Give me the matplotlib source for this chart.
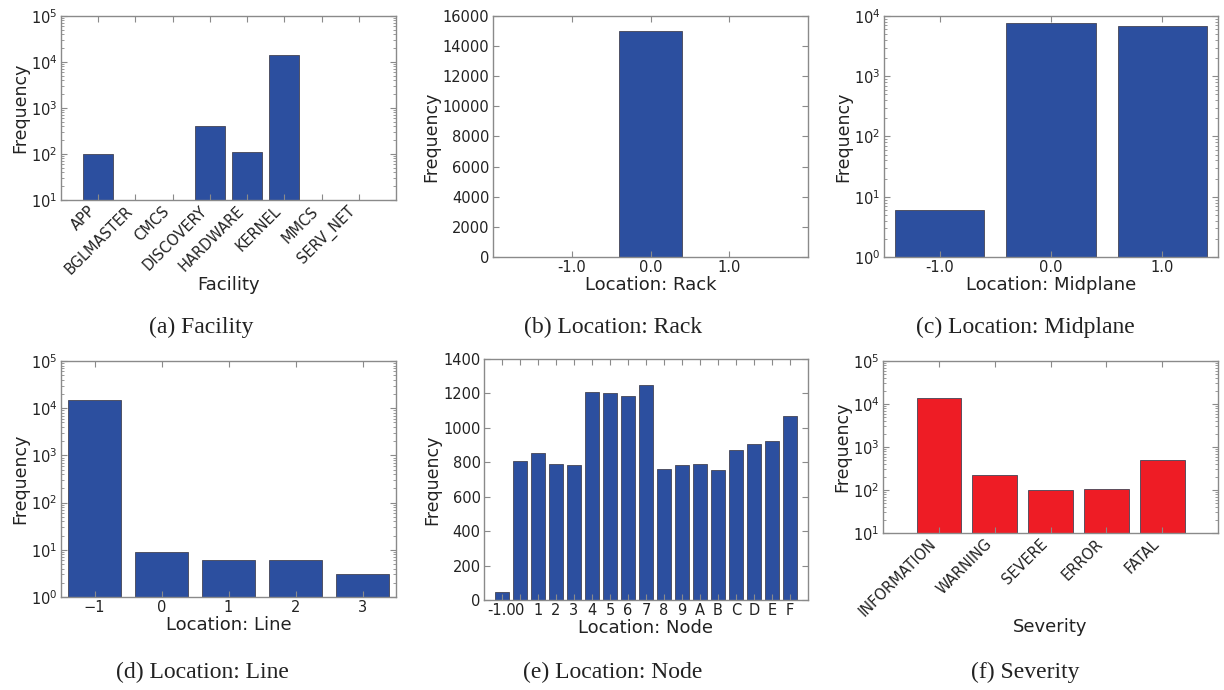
import matplotlib
matplotlib.use("Agg")
import matplotlib.pyplot as plt
from matplotlib.ticker import LogLocator, NullFormatter

# ---------------- data ----------------
facility_labels = ["APP", "BGLMASTER", "CMCS", "DISCOVERY", "HARDWARE", "KERNEL", "MMCS", "SERV_NET"]
facility_values = [100, 1, 1, 410, 110, 14000, 1, 1]

rack_labels = ["-1.0", "0.0", "1.0"]
rack_values = [0, 15000, 0]

midplane_labels = ["-1.0", "0.0", "1.0"]
midplane_values = [6, 7600, 6850]

line_labels = [-1, 0, 1, 2, 3]
line_values = [14800, 9, 6, 6, 3]

node_labels = ["-1.0", "0", "1", "2", "3", "4", "5", "6", "7", "8", "9",
               "A", "B", "C", "D", "E", "F"]
node_values = [45, 809, 856, 792, 784, 1206, 1204, 1183, 1249, 761, 784,
               790, 755, 871, 904, 926, 1071]

severity_labels = ["INFORMATION", "WARNING", "SEVERE", "ERROR", "FATAL"]
severity_values = [14100, 224, 101, 108, 500]

captions = ["(a) Facility", "(b) Location: Rack", "(c) Location: Midplane",
            "(d) Location: Line", "(e) Location: Node", "(f) Severity"]

# ---------------- style ----------------
W, H = 1224, 690
BLUE = "#2c4f9f"
RED = "#ee1c25"
EDGE = "#444455"
SPINE = "#8a8a8a"
TXT = "#222222"
plt.rcParams["font.family"] = ["DejaVu Sans"]
plt.rcParams["text.color"] = TXT
plt.rcParams["axes.labelcolor"] = TXT

fig = plt.figure(figsize=(W / 100, H / 100), dpi=100)


def make_axes(x0, x1, ytop, ybot):
    return fig.add_axes([x0 / W, 1 - ybot / H, (x1 - x0) / W, (ybot - ytop) / H])


def style(ax, log=False):
    for s in ax.spines.values():
        s.set_color(SPINE)
        s.set_linewidth(1.0)
    ax.tick_params(which="both", direction="in", top=True, right=True,
                   colors=SPINE, labelcolor=TXT, labelsize=10.5, pad=2.5)
    ax.tick_params(which="major", length=4, width=0.8)
    ax.tick_params(which="minor", length=2, width=0.6)
    if log:
        ax.set_yscale("log")
        ax.yaxis.set_minor_locator(LogLocator(base=10, subs=range(2, 10), numticks=20))
        ax.yaxis.set_minor_formatter(NullFormatter())
    ax.set_ylabel("Frequency", fontsize=12.5, labelpad=1.5)


# (a) Facility
ax = make_axes(61, 396, 16, 200)
style(ax, log=True)
xs = list(range(len(facility_labels)))
ax.bar(xs, facility_values, width=0.8, color=BLUE, edgecolor=EDGE, linewidth=0.6)
ax.set_ylim(10, 1e5)
ax.set_xlim(-1, len(facility_labels))
ax.set_xticks(xs, facility_labels, rotation=45, ha="right")
ax.set_xlabel("Facility", fontsize=13, labelpad=-1)

# (b) Rack
ax = make_axes(493, 808, 16, 257)
style(ax)
xs = list(range(len(rack_labels)))
ax.bar(xs, rack_values, width=0.8, color=BLUE, edgecolor=EDGE, linewidth=0.6)
ax.set_ylim(0, 16000)
ax.set_xlim(-1, len(rack_labels))
ax.set_xticks(xs, rack_labels)
ax.set_xlabel("Location: Rack", fontsize=13, labelpad=0.5)

# (c) Midplane
ax = make_axes(884, 1218, 16, 257)
style(ax, log=True)
xs = list(range(len(midplane_labels)))
ax.bar(xs, midplane_values, width=0.8, color=BLUE, edgecolor=EDGE, linewidth=0.6)
ax.set_ylim(1, 1e4)
ax.set_xlim(-0.5, len(midplane_labels) - 0.5)
ax.set_xticks(xs, midplane_labels)
ax.set_xlabel("Location: Midplane", fontsize=13, labelpad=0.5)

# (d) Line
ax = make_axes(61, 396, 361, 597)
style(ax, log=True)
ax.bar(line_labels, line_values, width=0.8, color=BLUE, edgecolor=EDGE, linewidth=0.6)
ax.set_ylim(1, 1e5)
ax.set_xlim(line_labels[0] - 0.5, line_labels[-1] + 0.5)
ax.set_xticks(line_labels)
ax.set_xlabel("Location: Line", fontsize=13, labelpad=0.5)

# (e) Node
ax = make_axes(484, 808, 359, 600)
style(ax)
xs = list(range(len(node_labels)))
ax.bar(xs, node_values, width=0.8, color=BLUE, edgecolor=EDGE, linewidth=0.6)
ax.set_ylim(0, 1400)
ax.set_xlim(-1, len(node_labels))
ax.set_xticks(xs, node_labels)
ax.set_xlabel("Location: Node", fontsize=13, labelpad=0.5)

# (f) Severity
ax = make_axes(883, 1218, 361, 533)
style(ax, log=True)
xs = list(range(len(severity_labels)))
ax.bar(xs, severity_values, width=0.8, color=RED, edgecolor=EDGE, linewidth=0.6)
ax.set_ylim(10, 1e5)
ax.set_xlim(-1, len(severity_labels))
ax.set_xticks(xs, severity_labels, rotation=45, ha="right")
ax.set_xlabel("Severity", fontsize=13, labelpad=-1)

# captions
cap_pos = [(201, 327), (613, 327), (1025, 327), (202, 672), (613, 672), (1025, 672)]
for text, (cx, cy) in zip(captions, cap_pos):
    fig.text(cx / W, 1 - cy / H, text, ha="center", va="center",
             fontsize=17, family=["Liberation Serif", "DejaVu Serif"], color=TXT)

fig.savefig("out.png", dpi=100)
